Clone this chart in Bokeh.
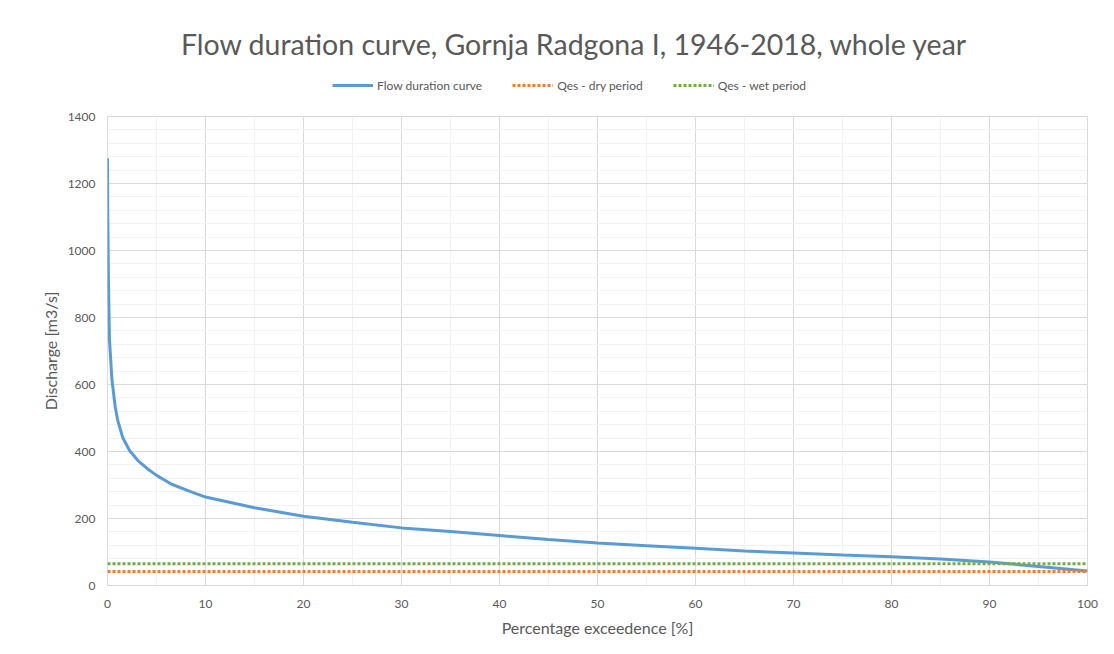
from bokeh.plotting import figure
from bokeh.models import Legend, LegendItem, Label, FixedTicker
from bokeh.layouts import column
from bokeh.embed import file_html
from bokeh.resources import INLINE

# Data
exceedance = [0, 0.02, 0.1, 0.2, 0.45, 0.78, 1.05, 1.55, 2.25, 3.1, 4.1, 5.05, 6.5, 8.2,
              10, 15, 20, 25, 30, 35, 40, 45, 50, 55, 60, 65, 70, 75, 80, 85, 90, 95, 100]
discharge = [1275, 1130, 900, 735, 615, 535, 492, 442, 403, 373, 348, 328, 303, 283,
             264, 232, 207, 189, 172, 161, 149, 137, 127, 119, 111, 103, 97, 91, 86, 79,
             70, 57, 43]
qes_x = [0, 100]
qes_dry = [42, 42]
qes_wet = [65, 65]
x_ticks = [0, 10, 20, 30, 40, 50, 60, 70, 80, 90, 100]
y_ticks = [0, 200, 400, 600, 800, 1000, 1200, 1400]
series_names = ["Flow duration curve", "Qes - dry period", "Qes - wet period"]
title_text = "Flow duration curve, Gornja Radgona I, 1946-2018, whole year"

FONT = "Lato"
GRAY = "#595959"
BLUE, ORANGE, GREEN = "#5B9BD5", "#ED7D31", "#70AD47"
W = 1108
LEFT = 107
RIGHT = W - 1087

# ---- header: title + legend (its ranges keep the data out of view) ----
head = figure(width=W, height=108, output_backend="svg", toolbar_location=None,
              x_range=(0, 100), y_range=(5000, 6000), title=None,
              min_border_left=LEFT, min_border_right=RIGHT, min_border_top=0,
              min_border_bottom=0)
head.axis.visible = False
head.grid.visible = False
head.outline_line_color = None
head.background_fill_color = "white"
head.border_fill_color = "white"
h1 = head.line(exceedance, discharge, line_color=BLUE, line_width=3)
h2 = head.line(qes_x, qes_dry, line_color=ORANGE, line_width=3, line_dash="3 2")
h3 = head.line(qes_x, qes_wet, line_color=GREEN, line_width=3, line_dash="3 2")

head.add_layout(Label(x=574 - LEFT, y=65, x_units="screen", y_units="screen",
                      text=title_text, text_font=FONT, text_font_size="28.5px",
                      text_color=GRAY, text_align="center", text_baseline="middle"))

legend = Legend(items=[
    LegendItem(label=series_names[0], renderers=[h1]),
    LegendItem(label=series_names[1], renderers=[h2]),
    LegendItem(label=series_names[2], renderers=[h3]),
], orientation="horizontal", location=(332 - LEFT, 15), padding=0, margin=0,
   glyph_width=41, label_standoff=4, spacing=30, border_line_color=None,
   background_fill_alpha=0, label_text_font=FONT, label_text_font_size="12px",
   label_text_color=GRAY, label_height=16, glyph_height=16)
head.add_layout(legend, "center")

# ---- main plot ----
p = figure(width=W, height=538, output_backend="svg", toolbar_location=None,
           x_range=(0, 100), y_range=(0, 1400), title=None,
           min_border_left=LEFT, min_border_right=RIGHT, min_border_top=8,
           min_border_bottom=61)
p.background_fill_color = "white"
p.border_fill_color = "white"
p.outline_line_color = "#D9D9D9"

p.line(exceedance, discharge, line_color=BLUE, line_width=3)
p.line(qes_x, qes_dry, line_color=ORANGE, line_width=3, line_dash="3 2")
p.line(qes_x, qes_wet, line_color=GREEN, line_width=3, line_dash="3 2")

p.xaxis.ticker = FixedTicker(ticks=x_ticks, minor_ticks=list(range(0, 101, 5)))
p.yaxis.ticker = FixedTicker(ticks=y_ticks, minor_ticks=list(range(0, 1401, 40)))

p.xgrid.grid_line_color = "#D9D9D9"
p.ygrid.grid_line_color = "#D9D9D9"
p.xgrid.minor_grid_line_color = "#F2F2F2"
p.ygrid.minor_grid_line_color = "#F2F2F2"

for ax in (p.xaxis[0], p.yaxis[0]):
    ax.major_tick_line_color = None
    ax.minor_tick_line_color = None
    ax.major_label_text_font = FONT
    ax.major_label_text_font_size = "12px"
    ax.major_label_text_color = GRAY
    ax.axis_label_text_font = FONT
    ax.axis_label_text_font_size = "16px"
    ax.axis_label_text_color = GRAY
    ax.axis_label_text_font_style = "normal"

p.xaxis.axis_line_color = "#D9D9D9"
p.yaxis.axis_line_color = None
p.xaxis.axis_label = "Percentage exceedence [%]"
p.yaxis.axis_label = "Discharge [m3/s]"
p.xaxis.major_label_standoff = 8
p.yaxis.major_label_standoff = 6
p.xaxis.axis_label_standoff = 7
p.yaxis.axis_label_standoff = 5

layout = column(head, p, spacing=0)
open("out.html", "w").write(file_html(layout, INLINE))
